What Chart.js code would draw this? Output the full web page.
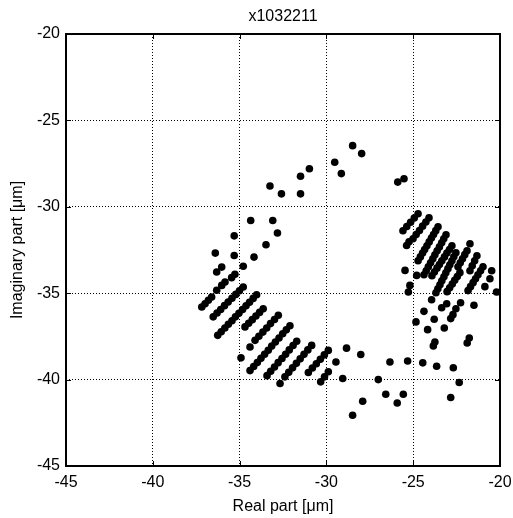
<!DOCTYPE html>
<html>
<head>
<meta charset="utf-8">
<script src="https://cdn.jsdelivr.net/npm/chart.js@4/dist/chart.umd.min.js"></script>
<style>
  body { margin: 0; background: #fff; }
  #wrap { width: 513px; height: 518px; position: relative; }
</style>
</head>
<body>
<div id="wrap"><canvas id="c"></canvas></div>
<script>
// Eixos (valores dos ticks)
const xTicks = [-45, -40, -35, -30, -25, -20];
const yTicks = [-45, -40, -35, -30, -25, -20];

// Pontos isolados (parte superior e lado esquerdo)
const sparseRe = [-34.36, -33.09, -33.25, -32.59, -31.49, -30.98, -31.49, -29.52, -29.14, -28.49, -27.97, -25.89, -25.53,
                  -35.31, -32.82, -33.48, -36.40, -35.31, -34.17, -36.03, -36.32, -34.79, -35.27, -35.46, -35.84, -36.03, -36.32];
const sparseIm = [-30.79, -30.79, -28.80, -29.25, -28.23, -27.80, -29.25, -27.42, -28.08, -26.46, -26.92, -28.57, -28.38,
                  -31.68, -31.52, -32.20, -32.68, -32.82, -32.91, -33.49, -33.77, -33.44, -33.90, -34.10, -34.35, -34.55, -34.83];

// Pontos isolados (parte de baixo e lado direito)
const lowerRe = [-34.40, -34.92, -32.67, -29.45, -28.84, -29.06, -28.02, -27.01, -26.58, -25.92, -25.57, -27.91, -28.49, -26.34,
                 -25.32, -24.45, -23.65, -22.69, -22.35, -22.84, -24.84, -24.17, -23.79, -24.38, -23.36, -23.21, -22.84, -22.71,
                 -22.54, -22.27, -21.50, -23.94, -23.75, -23.84, -21.77, -21.89, -23.07,
                 -25.38, -25.24, -25.47, -24.80, -25.19, -25.28, -21.73, -20.58, -20.48, -20.20, -20.87];
const lowerIm = [-38.11, -38.74, -40.23, -38.98, -38.18, -39.94, -38.55, -40.00, -40.85, -41.35, -40.85, -41.25, -42.06, -38.98,
                 -38.92, -39.03, -39.23, -39.31, -40.17, -41.04, -36.66, -37.11, -36.51, -36.05, -35.84, -37.01, -36.47, -36.24,
                 -35.90, -35.55, -35.70, -35.38, -37.82, -38.05, -37.59, -37.88, -35.61,
                 -32.24, -32.02, -33.68, -33.97, -34.55, -34.93, -32.14, -34.16, -33.70, -34.93, -34.62];

// Faixa diagonal da esquerda / baixo
const leftBandRe = [
  -37.18, -36.99, -36.80, -36.61,
  -36.52, -36.30, -36.09, -35.87, -35.66, -35.44, -35.22, -35.01, -34.79,
  -36.26, -36.06, -35.85, -35.65, -35.44, -35.24, -35.04, -34.83, -34.63, -34.43, -34.22, -34.02,
  -34.69, -34.48, -34.27, -34.06, -33.85, -33.64,
  -34.11, -33.89, -33.66, -33.44, -33.22, -32.99, -32.77,
  -34.40, -34.19, -33.98, -33.77, -33.56, -33.35, -33.15, -32.94, -32.73, -32.52, -32.31, -32.10,
  -33.42, -33.21, -32.99, -32.78, -32.56, -32.35, -32.14, -31.92, -31.71,
  -32.39, -32.17, -31.95, -31.73, -31.51, -31.29, -31.07, -30.85,
  -31.04, -30.81, -30.58, -30.35, -30.12, -29.89,
  -30.33, -30.11, -29.89
];
const leftBandIm = [
  -35.80, -35.61, -35.41, -35.22,
  -36.37, -36.15, -35.94, -35.72, -35.51, -35.29, -35.07, -34.86, -34.64,
  -37.44, -37.23, -37.01, -36.80, -36.59, -36.37, -36.16, -35.94, -35.73, -35.52, -35.30, -35.09,
  -36.95, -36.74, -36.53, -36.32, -36.11, -35.90,
  -37.73, -37.49, -37.25, -37.01, -36.76, -36.52, -36.28,
  -39.48, -39.24, -39.01, -38.77, -38.53, -38.30, -38.06, -37.82, -37.59, -37.35, -37.12, -36.88,
  -39.77, -39.52, -39.27, -39.02, -38.78, -38.53, -38.28, -38.03, -37.78,
  -39.84, -39.58, -39.32, -39.06, -38.80, -38.54, -38.28, -38.02,
  -39.59, -39.33, -39.08, -38.82, -38.57, -38.31,
  -40.13, -39.84, -39.55
];

// Faixa diagonal da direita
const rightBandRe = [
  -25.59, -25.37, -25.15, -24.94, -24.72,
  -25.01, -24.83, -24.64, -24.46, -24.27, -24.09,
  -24.72, -24.59, -24.46, -24.34, -24.21, -24.08, -23.95, -23.83, -23.70, -23.57,
  -24.38, -24.25, -24.13, -24.00, -23.87, -23.75, -23.62, -23.49, -23.36, -23.24, -23.11,
  -23.92, -23.78, -23.63, -23.49, -23.35, -23.20, -23.06, -22.91, -22.77,
  -23.69, -23.58, -23.46, -23.35, -23.23, -23.12, -23.00, -22.89, -22.77, -22.66, -22.54,
  -23.05, -22.90, -22.75, -22.61, -22.46, -22.31,
  -22.42, -22.29, -22.16, -22.03, -21.90,
  -21.84, -21.70, -21.55, -21.41, -21.27, -21.12, -20.98,
  -21.73, -21.60, -21.46, -21.33
];
const rightBandIm = [
  -31.39, -31.14, -30.89, -30.65, -30.40,
  -31.85, -31.61, -31.37, -31.12, -30.88, -30.64,
  -33.12, -32.90, -32.68, -32.47, -32.25, -32.03, -31.81, -31.60, -31.38, -31.16,
  -33.93, -33.70, -33.47, -33.24, -33.01, -32.78, -32.55, -32.32, -32.08, -31.85, -31.62,
  -33.99, -33.77, -33.55, -33.34, -33.12, -32.90, -32.68, -32.47, -32.25,
  -34.97, -34.74, -34.51, -34.28, -34.05, -33.82, -33.58, -33.35, -33.12, -32.89, -32.66,
  -34.91, -34.69, -34.47, -34.25, -34.03, -33.81,
  -33.47, -33.24, -33.01, -32.77, -32.54,
  -34.85, -34.62, -34.39, -34.16, -33.93, -33.70, -33.47,
  -33.70, -33.41, -33.12, -32.83
];

// junta tudo num só conjunto de pontos
const allRe = [].concat(sparseRe, lowerRe, leftBandRe, rightBandRe);
const allIm = [].concat(sparseIm, lowerIm, leftBandIm, rightBandIm);
const points = allRe.map((x, i) => ({ x: x, y: allIm[i] }));

const FONT = "'Liberation Sans', Arial, sans-serif";

// moldura preta e ticks para dentro, estilo MATLAB
const framePlugin = {
  id: 'frame',
  afterDraw(chart) {
    const { ctx, chartArea: a, scales } = chart;
    ctx.save();
    ctx.strokeStyle = '#000';
    ctx.lineWidth = 1;
    ctx.beginPath();
    xTicks.forEach(v => {
      const px = Math.round(scales.x.getPixelForValue(v)) + 0.5;
      ctx.moveTo(px, a.bottom); ctx.lineTo(px, a.bottom - 5);
      ctx.moveTo(px, a.top); ctx.lineTo(px, a.top + 5);
    });
    yTicks.forEach(v => {
      const py = Math.round(scales.y.getPixelForValue(v)) + 0.5;
      ctx.moveTo(a.left, py); ctx.lineTo(a.left + 5, py);
      ctx.moveTo(a.right, py); ctx.lineTo(a.right - 5, py);
    });
    ctx.stroke();
    ctx.lineWidth = 2;
    ctx.strokeRect(a.left, a.top, a.right - a.left, a.bottom - a.top);
    ctx.restore();
  }
};

function axisOpts(ticks, titleText, isX) {
  return {
    type: 'linear',
    min: -45,
    max: -20,
    afterBuildTicks: s => { s.ticks = ticks.map(v => ({ value: v })); },
    afterFit: s => {
      if (isX) {
        s.height = 52;
        s.paddingLeft = 0;
        s.paddingRight = 0;
      } else {
        s.width = 66;
        s.paddingTop = 0;
        s.paddingBottom = 0;
      }
    },
    grid: { color: '#000', lineWidth: 1, drawTicks: false },
    border: { display: false, dash: [1, 2] },
    ticks: {
      color: '#000',
      padding: isX ? 7 : 6,
      font: { family: FONT, size: 16 },
      callback: v => String(v)
    },
    title: {
      display: true,
      text: titleText,
      color: '#000',
      font: { family: FONT, size: 16 },
      padding: isX ? { top: 0, bottom: 2 } : { top: 8, bottom: 0 }
    }
  };
}

new Chart(document.getElementById('c'), {
  type: 'scatter',
  data: {
    datasets: [{
      label: 'x1032211',
      data: points,
      backgroundColor: '#000',
      borderColor: '#000',
      borderWidth: 0,
      pointRadius: 3.8,
      pointHoverRadius: 3.8
    }]
  },
  options: {
    responsive: true,
    maintainAspectRatio: false,
    animation: false,
    layout: { padding: { left: 0, right: 13, top: 0, bottom: 0 } },
    plugins: {
      legend: { display: false },
      tooltip: { enabled: false }
    },
    scales: {
      x: axisOpts(xTicks, 'Real part [μm]', true),
      y: axisOpts(yTicks, 'Imaginary part [μm]', false),
      // eixo de cima só para o título ficar centrado sobre o gráfico
      xTop: {
        type: 'linear',
        position: 'top',
        min: -45,
        max: -20,
        grid: { display: false, drawTicks: false },
        border: { display: false },
        ticks: { display: false },
        afterFit: s => { s.height = 34; s.paddingLeft = 0; s.paddingRight = 0; },
        title: {
          display: true,
          text: 'x1032211',
          color: '#000',
          font: { family: FONT, size: 16 },
          padding: { top: 7, bottom: 0 }
        }
      }
    }
  },
  plugins: [framePlugin]
});
</script>
</body>
</html>
